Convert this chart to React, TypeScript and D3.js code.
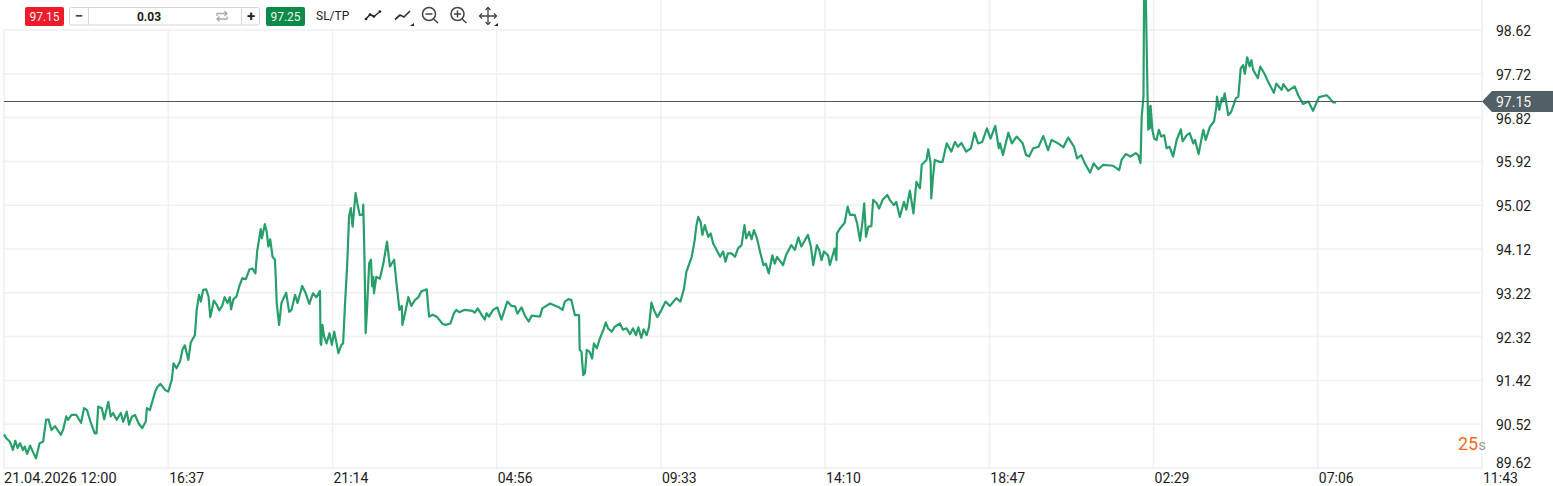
import React from "react";
import * as d3 from "d3";

const priceTicks = [98.62, 97.72, 96.82, 95.92, 95.02, 94.12, 93.22, 92.32, 91.42, 90.52, 89.62];
const timeLabels = ["21.04.2026 12:00", "16:37", "21:14", "04:56", "09:33", "14:10", "18:47", "02:29", "07:06", "11:43"];
const timeTickStep = 277;
const askPrice = 97.25;
const bidPrice = 97.15;
const lotSize = "0.03";

// [elapsed chart minutes, price]
const series1: [number, number][] = [[0,90.31],[4,90.23],[10,90.16],[15,89.99],[19,90.18],[23,90.03],[27,90.13],[32,89.99],[35,90.06],[39,89.91],[44,90.08],[50,89.92],[54,89.82],[60,90.13],[66,90.16],[71,90.61],[75,90.62],[80,90.40],[86,90.48],[92,90.37],[96,90.30],[100,90.42],[105,90.68],[108,90.61],[114,90.71],[122,90.71],[130,90.55],[135,90.85],[140,90.81],[146,90.57],[153,90.33],[156,90.33],[159,90.88],[165,90.85],[169,90.62],[176,90.98],[180,90.68],[184,90.75],[190,90.61],[197,90.75],[201,90.57],[207,90.78],[211,90.51],[216,90.68],[221,90.71],[227,90.54],[233,90.44],[239,90.57],[241,90.85],[246,90.81],[251,91.02],[255,91.19],[259,91.29],[264,91.35],[272,91.22],[277,91.19],[283,91.43]];
const series2: [number, number][] = [[286,91.77],[291,91.67],[297,91.81],[301,92.05],[305,92.14],[311,91.84],[315,92.20],[322,92.35],[325,92.87],[329,93.18],[332,93.04],[336,93.28],[341,93.29],[345,93.14],[348,92.72],[354,93.06],[359,92.97],[363,92.86],[368,92.95],[372,93.13],[377,93.01],[381,93.13],[383,92.88],[387,93.09],[392,93.14],[397,93.36],[402,93.52],[408,93.50],[414,93.70],[419,93.72],[424,93.62],[427,94.07],[433,94.53],[435,94.34],[440,94.63],[443,94.48],[446,94.17],[449,94.32],[453,93.96],[457,93.90],[459,93.35],[460,93.01],[464,92.56],[468,93.01],[476,93.22],[481,92.83],[485,92.87],[491,93.18],[495,93.01],[503,93.36],[509,93.21],[515,92.99],[521,93.21],[527,93.13],[533,93.26],[534,92.18],[535,92.15],[537,92.56],[540,92.32],[544,92.18],[549,92.39],[553,92.15],[557,92.42],[561,92.18],[564,91.98],[569,92.15],[572,92.18],[575,92.94],[579,93.83],[582,94.79],[585,94.96],[588,94.58],[593,95.27],[596,95.06],[600,94.82],[605,94.82],[606,95.03],[608,93.96],[610,92.39],[612,92.80],[616,93.83],[619,93.90],[621,93.35],[623,93.55],[624,93.21],[628,93.55],[634,93.51],[640,93.83],[646,94.27],[651,93.76],[658,93.90],[662,93.42],[667,92.87],[671,92.95],[672,92.56],[677,92.83],[682,93.13],[687,92.95],[693,93.07],[699,93.13],[704,93.25],[713,93.29],[717,92.73]];
const series3: [number, number][] = [[723,92.77],[730,92.73],[740,92.58],[745,92.56],[753,92.59],[759,92.80],[763,92.87],[768,92.82],[777,92.87],[790,92.85],[794,92.81],[799,92.90],[806,92.76],[811,92.67],[814,92.80],[818,92.73],[825,92.87],[832,92.92],[839,92.67],[849,93.04],[856,92.95],[862,92.94],[866,92.79],[873,92.92],[879,92.74],[885,92.63],[890,92.75],[904,92.73],[908,92.90],[921,93.00],[935,92.93],[942,92.87],[946,93.04],[952,93.09],[957,93.07],[963,92.76],[970,92.76],[971,92.05],[974,92.01],[977,91.53],[980,91.57],[983,92.05],[988,92.00],[992,91.87],[995,92.18],[1000,92.08],[1005,92.28],[1011,92.46],[1015,92.61],[1019,92.49],[1025,92.42],[1030,92.52],[1039,92.59],[1044,92.46],[1050,92.49],[1056,92.37],[1061,92.49],[1066,92.35],[1070,92.51],[1075,92.29],[1079,92.47],[1084,92.35],[1088,92.52],[1092,93.02],[1096,92.87],[1102,92.72],[1109,92.87],[1116,93.04],[1123,92.95],[1134,93.11],[1141,93.04],[1147,93.31],[1151,93.65],[1160,93.96],[1165,94.30],[1168,94.61],[1171,94.78],[1175,94.68],[1178,94.41],[1182,94.61],[1188,94.37],[1192,94.44],[1196,94.24],[1202,94.10],[1208,93.96],[1213,94.07],[1217,93.86],[1221,94.03]];
const series4: [number, number][] = [[1227,94.03],[1233,93.96],[1238,94.13],[1244,94.20],[1249,94.61],[1252,94.34],[1257,94.47],[1261,94.32],[1265,94.51],[1270,94.34],[1276,94.03],[1281,93.79],[1285,93.82],[1290,93.62],[1296,93.99],[1300,93.82],[1304,93.96],[1314,93.79],[1319,93.99],[1328,94.20],[1334,94.10],[1340,94.36],[1345,94.17],[1356,94.41],[1361,94.17],[1365,93.79],[1371,94.20],[1375,94.10],[1379,93.89],[1383,94.07],[1390,93.99],[1393,93.79],[1401,94.13],[1404,93.89],[1405,94.44],[1410,94.54],[1418,94.66],[1423,94.99],[1427,94.82],[1435,94.82],[1439,94.65],[1444,94.29],[1448,94.68],[1451,95.06],[1454,94.37],[1458,94.58],[1463,94.59],[1466,95.13],[1472,95.06],[1476,94.95],[1482,95.13],[1490,95.23],[1494,95.13],[1501,95.02],[1505,95.09],[1511,94.78],[1518,95.09],[1522,94.93],[1528,95.32],[1534,94.85],[1539,95.50],[1545,95.37],[1548,95.85],[1556,95.95],[1559,96.17],[1563,95.88],[1564,95.16],[1567,95.60],[1570,95.95],[1578,95.91],[1583,95.91],[1590,96.29],[1598,96.12],[1604,96.32],[1609,96.22],[1615,96.30],[1623,96.12],[1631,96.19],[1637,96.51],[1643,96.29],[1650,96.32],[1658,96.60],[1664,96.39],[1672,96.65],[1678,96.19]];
const series5: [number, number][] = [[1680,96.29],[1685,96.05],[1694,96.51],[1700,96.29],[1708,96.43],[1718,96.30],[1724,96.05],[1729,96.02],[1736,96.19],[1745,96.22],[1753,96.44],[1761,96.15],[1767,96.36],[1778,96.29],[1787,96.21],[1795,96.41],[1805,96.22],[1810,95.98],[1817,96.05],[1823,95.88],[1832,95.69],[1838,95.88],[1846,95.76],[1854,95.85],[1871,95.83],[1881,95.74],[1885,95.95],[1892,96.07],[1900,96.02],[1909,96.09],[1913,96.05],[1917,95.89],[1919,96.84],[1922,97.25],[1923,99.35],[1926,99.30],[1927,98.55],[1929,97.18],[1930,96.57],[1932,97.04],[1933,96.60],[1934,97.06],[1937,96.57],[1940,96.39],[1944,96.36],[1948,96.57],[1952,96.43],[1957,96.46],[1961,96.19],[1966,96.22],[1972,96.02],[1978,96.36],[1985,96.58],[1988,96.33],[1995,96.46],[2000,96.50],[2006,96.29],[2009,96.36],[2015,96.07],[2019,96.33],[2023,96.57],[2027,96.36],[2034,96.63],[2041,96.74],[2045,97.04],[2046,97.25],[2050,96.98],[2054,97.22],[2056,97.15],[2059,97.32],[2065,96.87],[2070,96.94],[2078,97.22],[2082,97.25],[2086,97.83],[2090,97.90],[2093,97.72],[2097,98.06],[2101,97.87],[2104,98.00],[2107,97.80],[2115,97.63],[2119,97.87],[2127,97.70],[2132,97.56],[2142,97.33],[2146,97.52],[2155,97.39],[2158,97.51],[2166,97.37],[2177,97.46],[2183,97.28],[2191,97.10],[2200,97.15],[2208,96.96],[2218,97.24],[2231,97.28],[2236,97.22],[2242,97.13],[2247,97.13]];

const W = 1553;
const H = 486;
const GRID = "#edf0f4";
const FONT = "Roboto, sans-serif";

export default function App() {
  const x = d3.scaleLinear().domain([0, timeTickStep * (timeLabels.length - 1)]).range([4, 1482]);
  const y = d3.scaleLinear().domain([priceTicks[priceTicks.length - 1], priceTicks[0]]).range([468, 30]);
  const allPoints = [...series1, ...series2, ...series3, ...series4, ...series5];
  const path = d3.line<[number, number]>().x((d) => x(d[0])).y((d) => y(d[1]))(allPoints) ?? "";
  const bidY = Math.floor(y(bidPrice)) + 0.5;

  return (
    <svg width={W} height={H} viewBox={`0 0 ${W} ${H}`} style={{ position: "fixed", left: 0, top: 0, display: "block", background: "#fff" }} fontFamily={FONT}>
      {priceTicks.map((t) => (
        <line key={t} x1={4} x2={1482} y1={y(t)} y2={y(t)} stroke={GRID} strokeWidth={1.5} />
      ))}
      {timeLabels.map((t, i) => (
        <line key={t} x1={x(i * timeTickStep)} x2={x(i * timeTickStep)} y1={0} y2={468} stroke={GRID} strokeWidth={1.5} />
      ))}
      <path d={path} fill="none" stroke="#1c9a63" strokeWidth={2.2} strokeLinejoin="round" opacity={0.95} />
      <line x1={4} x2={1482} y1={bidY} y2={bidY} stroke="#4d5a61" strokeWidth={1} />

      {priceTicks.map((t, i) => (
        <text key={t} x={1496} y={i === priceTicks.length - 1 ? y(t) : y(t) + 6} fontSize={14} fill="#1c1c1c">
          {t.toFixed(2)}
        </text>
      ))}
      {timeLabels.map((t, i) => (
        <text key={t} x={x(i * timeTickStep) + (i === 0 ? 0 : 1)} y={483} fontSize={i === 0 ? 14.5 : 14} fill="#1c1c1c">
          {t}
        </text>
      ))}

      <path d={`M1482 ${bidY} L1492 91 H1553 V112 H1492 Z`} fill="#525f66" />
      <text x={1496} y={107} fontSize={14} fill="#f4f6f7">{bidPrice.toFixed(2)}</text>

      <text x={1458} y={450} fontSize={18} fill="#ef6c1a">25<tspan fontSize={15} fill="#9a9a9a">s</tspan></text>

      {/* toolbar */}
      <rect x={0} y={0} width={506} height={29} fill="#fff" />
      <rect x={25} y={7} width={39} height={19} rx={2} fill="#ed1c2a" />
      <text x={44.5} y={20.5} fontSize={12} fill="#fff" textAnchor="middle" opacity={0.92}>{bidPrice.toFixed(2)}</text>
      <rect x={69.5} y={7.5} width={190} height={17.5} rx={2} fill="#fff" stroke="#d4d4d4" />
      <line x1={88.5} x2={88.5} y1={8} y2={25} stroke="#d9d9d9" />
      <line x1={241.5} x2={241.5} y1={8} y2={25} stroke="#d9d9d9" />
      <text x={79} y={21} fontSize={15} fontWeight={700} fill="#444" textAnchor="middle">−</text>
      <text x={251} y={21} fontSize={15} fontWeight={700} fill="#222" textAnchor="middle">+</text>
      <text x={149} y={20.5} fontSize={12} fontWeight={700} fill="#1a1a1a" textAnchor="middle">{lotSize}</text>
      <g fill="none" stroke="#a8a8a8" strokeWidth={1.3}>
        <path d="M217 16 V13.5 H227 M224.5 11 L227 13.5 L224.5 16" />
        <path d="M227 16.5 V19 H217 M219.5 21.5 L217 19 L219.5 16.5" />
      </g>
      <rect x={266} y={7} width={39} height={19} rx={2} fill="#0a8a46" />
      <text x={285.5} y={20.5} fontSize={12} fill="#fff" textAnchor="middle" opacity={0.92}>{askPrice.toFixed(2)}</text>
      <text x={316} y={19.5} fontSize={12} fill="#222">SL/TP</text>

      <g fill="none" stroke="#222" strokeWidth={1.4} strokeLinejoin="round">
        <path d="M366 19 L370 14.5 L374 16.5 L380 11.5" />
        <path d="M395 19.5 L400 15 L404 17 L410 11" stroke="#333" strokeWidth={1.7} />
      </g>
      <g fill="#222">
        <circle cx={366} cy={19} r={1.3} />
        <circle cx={370} cy={14.5} r={1.3} />
        <circle cx={374} cy={16.5} r={1.3} />
        <circle cx={380} cy={11.5} r={1.3} />
        <path d="M410 26 L414 26 L414 23 Z" />
        <path d="M494 26 L498 26 L498 23 Z" />
      </g>
      <g fill="none" stroke="#444" strokeWidth={1.5}>
        <circle cx={429} cy={14} r={6.5} />
        <path d="M433.5 19 L438 23" />
        <path d="M425.5 14 H432.5" />
        <circle cx={457.5} cy={14} r={6.5} />
        <path d="M462 19 L466.5 23" />
        <path d="M454 14 H461 M457.5 10.5 V17.5" />
        <path d="M488 8 V24 M480 16 H496" strokeWidth={1.3} />
        <path d="M485.5 10 L488 7.5 L490.5 10 M485.5 22 L488 24.5 L490.5 22 M482 13.5 L479.5 16 L482 18.5 M494 13.5 L496.5 16 L494 18.5" strokeWidth={1.3} />
      </g>
    </svg>
  );
}
